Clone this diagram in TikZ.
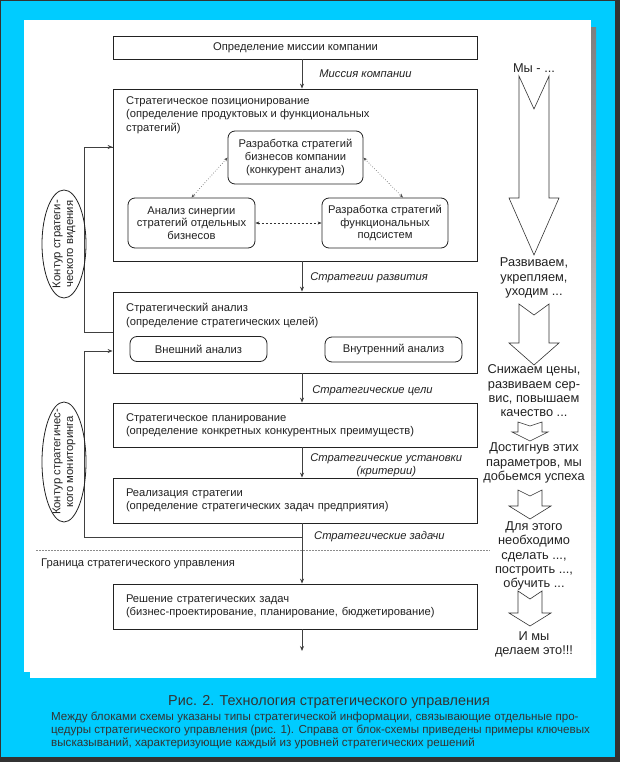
\documentclass[tikz,border=0pt]{standalone}
\usepackage{fontspec}
\setmainfont{Liberation Sans}
\usetikzlibrary{arrows.meta,shapes.geometric,positioning}

\definecolor{skyfill}{HTML}{00CCFF}
\definecolor{frame}{HTML}{333333}
\definecolor{shade}{HTML}{CCCCCC}
\definecolor{ink}{HTML}{222222}

\begin{document}
\begin{tikzpicture}[x=1pt, y=-1pt,
    txt/.style={font=\fontsize{11.2}{13.5}\selectfont, text=ink, inner sep=0pt},
    blk/.style={txt, draw=ink, line width=0.8pt, minimum width=364pt},
    tblk/.style={blk, text width=338pt, inner xsep=13pt, align=left},
    rbox/.style={txt, draw=ink, line width=0.8pt, rounded corners=7pt, align=center, font=\fontsize{11.2}{12.6}\selectfont},
    lab/.style={font=\fontsize{11.2}{12.8}\selectfont\itshape, text=ink, inner sep=0pt, align=center},
    oval/.style={draw=ink, ellipse, line width=0.8pt, minimum width=44pt, inner sep=0pt},
    ovtxt/.style={txt, rotate=90, align=center, font=\fontsize{11.3}{12.6}\selectfont},
    arr/.style={-{Stealth[length=5pt,width=4pt]}, line width=0.8pt, draw=black!75},
    loop/.style={line width=0.8pt, draw=black!75},
    dotarr/.style={{Stealth[length=4pt,width=3pt]}-{Stealth[length=4pt,width=3pt]}, dotted, line width=0.6pt, draw=black!70},
    dasharr/.style={{Stealth[length=4pt,width=3pt]}-{Stealth[length=4pt,width=3pt]}, dash pattern=on 2.5pt off 1.5pt, line width=0.6pt, draw=black!80},
    blockarr/.style={draw=black!80, line width=0.6pt, fill=white, line join=miter},
    side/.style={txt, align=center, font=\fontsize{12.8}{14.3}\selectfont}
]
% frame and panel
\fill[frame] (0,0) rectangle (620,762);
\fill[skyfill] (1,1) rectangle (615,757);
\fill[shade] (30,28) rectangle (596,677);
\fill[white] (24,20) rectangle (591,672);

\coordinate (ax) at (302,0);

% main column
\node[blk, align=center, minimum height=23pt] (mis) at (295.5,47.5) {Определение миссии компании};
\node[blk, minimum height=172pt] (pos) at (295,175) {};
\node[txt, align=left, anchor=north west] (posT) at (126,96) {Стратегическое позиционирование\\(определение продуктовых и функциональных\\стратегий)};
\node[rbox, minimum width=135pt, minimum height=53pt] (bus) at (295.5,157.5) {Разработка стратегий\\бизнесов компании\\(конкурент анализ)};
\node[rbox, minimum width=127pt, minimum height=50pt] (syn) at (191.5,223) {Анализ синергии\\стратегий отдельных\\бизнесов};
\node[rbox, minimum width=126pt, minimum height=50pt] (fun) at (385,223) {Разработка стратегий\\функциональных\\подсистем};

\node[blk, minimum height=81pt] (ana) at (295,332.5) {};
\node[txt, align=left, anchor=north west] (anaT) at (126,303) {Стратегический анализ\\(определение стратегических целей)};
\node[rbox, minimum width=137pt, minimum height=25pt] (ext) at (198.5,349) {Внешний анализ};
\node[rbox, minimum width=137pt, minimum height=25pt] (int) at (393.5,349.5) {Внутренний анализ};

\node[tblk, minimum height=44pt] (pla) at (295,425) {Стратегическое планирование\\(определение конкретных конкурентных преимуществ)};
\node[tblk, minimum height=45pt] (real) at (295,500.5) {Реализация стратегии\\(определение стратегических задач предприятия)};
\node[tblk, minimum height=45pt] (sol) at (295,606.5) {Решение стратегических задач\\(бизнес-проектирование, планирование, бюджетирование)};
\coordinate (jn) at (302,537);
\coordinate (out) at (302,651);

\draw[arr] (mis.south -| ax) -- node[lab, anchor=west, xshift=17pt] {Миссия компании} (pos.north -| ax);
\draw[arr] (pos.south -| ax) -- node[lab, anchor=west, xshift=8pt, yshift=-1.5pt] {Стратегии развития} (ana.north -| ax);
\draw[arr] (ana.south -| ax) -- node[lab, anchor=west, xshift=10pt, yshift=-2.5pt] {Стратегические цели} (pla.north -| ax);
\draw[arr] (pla.south -| ax) -- node[lab, anchor=west, xshift=8pt, yshift=-3pt] {Стратегические установки\\(критерии)} (real.north -| ax);
\draw[arr] (real.south -| ax) -- (sol.north -| ax);
\node[lab, anchor=west] (tasksL) at ([xshift=12pt]jn) {Стратегические задачи};
\draw[arr] (sol.south -| ax) -- (out);

\draw[dotarr] (bus.west) -- (syn.north);
\draw[dotarr] (bus.east) -- ([xshift=18pt]fun.north);
\draw[dasharr] (syn) -- (fun);

% feedback loops
\draw[loop] (ana.west) -- ++(-28,0) |- ([yshift=28pt]pos.west);
\draw[arr] ([xshift=-28pt,yshift=28pt]pos.west) -- ([yshift=28pt]pos.west);
\draw[arr] (jn) -| ([xshift=-28pt,yshift=-18.5pt]ana.west) -- ([yshift=-18.5pt]ana.west);

\node[oval, minimum height=108pt] (vis) at (64,244) {};
\node[ovtxt] (visT) at (vis) {Контур стратеги-\\ческого видения};
\node[oval, minimum height=120pt] (mon) at (64,462) {};
\node[ovtxt] (monT) at (mon) {Контур стратегичес-\\кого мониторинга};

% boundary
\draw[black!45, line width=0.8pt, dash pattern=on 2pt off 1pt] (36,550) -- (490,550);
\node[txt, anchor=west] (bnd) at (41,564) {Граница стратегического управления};

% right column
\node[side] (s1) at (534,68) {Мы - ...};
\node[side] (s2) at (534,278) {Развиваем,\\укрепляем,\\уходим ...};
\node[side] (s3) at (534,391) {Снижаем цены,\\развиваем сер-\\вис, повышаем\\качество ...};
\node[side] (s4) at (534,463) {Достигнув этих\\параметров, мы\\добьемся успеха};
\node[side] (s5) at (534,556) {Для этого\\необходимо\\сделать ...,\\построить ...,\\обучить ...};
\node[side] (s6) at (534,644.5) {И мы\\делаем это!!!};

\foreach \c/\h/\w/\t/\n/\s/\p in {534/15/25/76/109/198/255, 534/15/25/304/315/343/365,
    530/12/18/422/426/432/441, 530/12/21/490/496/506/519, 530/12/21/591/599/613/626}
  \draw[blockarr] (\c-\h,\t) -- (\c,\n) -- (\c+\h,\t) -- (\c+\h,\s) -- (\c+\w,\s)
    -- (\c,\p) -- (\c-\w,\s) -- (\c-\h,\s) -- cycle;

% caption
\node[txt, text=black!80, font=\fontsize{14.4}{16}\selectfont] (cap) at (329,702) {Рис. 2. Технология стратегического управления};
\node[txt, text=black!80, align=left, anchor=north west, font=\fontsize{11.6}{12.8}\selectfont] (desc) at (51,712) {Между блоками схемы указаны типы стратегической информации, связывающие отдельные про-\\цедуры стратегического управления (рис. 1). Справа от блок-схемы приведены примеры ключевых\\высказываний, характеризующие каждый из уровней стратегических решений};
\end{tikzpicture}
\end{document}
